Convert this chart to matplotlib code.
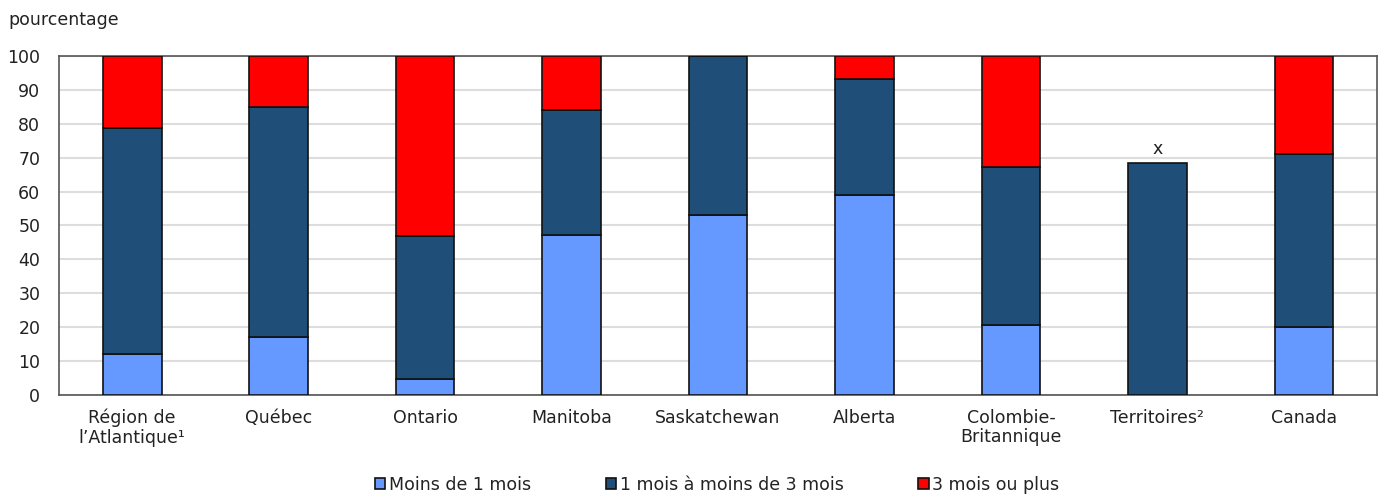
import matplotlib.pyplot as plt
import numpy as np

regions = ['Région de\nl\u2019Atlantique\u00b9', 'Québec', 'Ontario', 'Manitoba',
           'Saskatchewan', 'Alberta', 'Colombie-\nBritannique', 'Territoires\u00b2', 'Canada']

moins_1 = np.array([12.0, 17.2, 4.6, 47.2, 53.1, 58.9, 20.6, np.nan, 20.1])
un_a_3 = np.array([66.7, 67.8, 42.2, 36.8, 46.9, 34.2, 46.6, 68.5, 50.9])
trois_plus = np.array([21.3, 15.0, 53.2, 16.0, 0.0, 6.9, 32.8, np.nan, 29.0])

noms = ['Moins de 1 mois', '1 mois à moins de 3 mois', '3 mois ou plus']
couleurs = ['#6699FF', '#1F4E79', '#FF0000']

fs = 12.5
x = np.arange(len(regions))
w = 0.4

fig = plt.figure(figsize=(13.79, 4.95), dpi=100)
ax = fig.add_axes([0.0428, 0.202, 0.9558, 0.685])

b1 = np.nan_to_num(moins_1)
b2 = b1 + un_a_3
ax.bar(x, moins_1, w, color=couleurs[0], edgecolor='#111111', linewidth=1.2, label=noms[0], zorder=3)
ax.bar(x, un_a_3, w, bottom=b1, color=couleurs[1], edgecolor='#111111', linewidth=1.2, label=noms[1], zorder=3)
ax.bar(x, trois_plus, w, bottom=b2, color=couleurs[2], edgecolor='#111111', linewidth=1.2, label=noms[2], zorder=3)

# Territoires: valeurs supprimées
ax.text(7, b2[7] + 1.5, 'x', ha='center', va='bottom', fontsize=fs, color='#222222')

ax.set_xlim(-0.5, len(regions) - 0.5)
ax.set_ylim(0, 100)
ax.set_yticks(np.arange(0, 101, 10))
ax.set_xticks(x)
ax.set_xticklabels(regions, fontsize=fs, linespacing=1.1, color='#222222')
ax.tick_params(axis='y', labelsize=fs, length=0, pad=13.5, labelcolor='#222222')
ax.tick_params(axis='x', length=0, pad=10)
ax.grid(axis='y', color='#dddddd', linewidth=1.5, zorder=0)
for s in ax.spines.values():
    s.set_color('#555555')
    s.set_linewidth(1.2)

fig.text(0.006, 0.96, 'pourcentage', fontsize=fs, ha='left', va='center', color='#222222')

leg = fig.legend(loc='center', bbox_to_anchor=(0.52, 0.02), ncol=3, frameon=False,
                 fontsize=fs, handlelength=0.6, handleheight=0.6, handletextpad=0.2,
                 columnspacing=4.3)
for t in leg.get_texts():
    t.set_color('#222222')

fig.savefig('out.png', dpi=100)
